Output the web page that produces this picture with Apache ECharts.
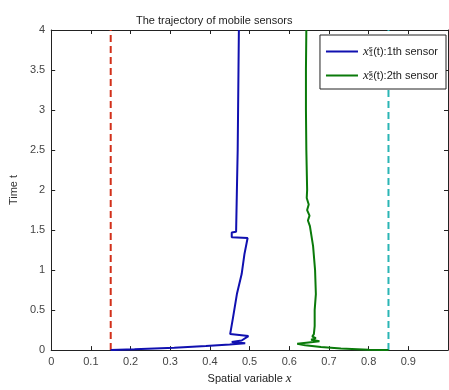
<!DOCTYPE html>
<html><head><meta charset="utf-8">
<script src="https://cdn.jsdelivr.net/npm/echarts@6/dist/echarts.min.js"></script>
<style>html,body{margin:0;padding:0;background:#fff;}#c{width:449px;height:390px;}</style>
</head><body><div id="c"></div>
<script>
const xTicks = [0,0.1,0.2,0.3,0.4,0.5,0.6,0.7,0.8,0.9,1];
const yTicks = [0,0.5,1,1.5,2,2.5,3,3.5,4];
// sensor 1 trajectory (time, position)
const s1T = [0,0.01,0.03,0.05,0.07,0.085,0.10,0.12,0.175,0.20,0.40,0.70,0.95,1.20,1.40,1.41,1.47,1.48,2.0,2.5,3.0,3.5,4.0];
const s1X = [0.15,0.21,0.31,0.39,0.45,0.489,0.455,0.48,0.497,0.451,0.458,0.468,0.48,0.487,0.495,0.455,0.455,0.466,0.468,0.47,0.471,0.472,0.473];
// sensor 2 trajectory
const s2T = [0,0.005,0.02,0.04,0.06,0.08,0.09,0.10,0.11,0.13,0.15,0.17,0.20,0.30,0.50,0.70,1.00,1.30,1.55,1.62,1.68,1.75,1.82,1.90,2.0,2.5,3.0,3.5,4.0];
const s2X = [0.85,0.80,0.73,0.68,0.64,0.62,0.618,0.66,0.676,0.655,0.667,0.658,0.662,0.664,0.664,0.667,0.665,0.66,0.652,0.647,0.651,0.645,0.649,0.644,0.645,0.643,0.642,0.642,0.643];
// boundary / reference lines
const leftX = [0.15,0.15], leftT = [0,4];
const rightX = [0.85,0.85], rightT = [0,4];

const zip = (xs, ts) => xs.map((x,i)=>[x, ts[i]]);
const axisCol = '#222';
const lab = {color:'#444', fontSize:11, fontFamily:'Liberation Sans, Arial, sans-serif'};
const chart = echarts.init(document.getElementById('c'), null, {renderer:'canvas'});
chart.setOption({
  animation:false,
  backgroundColor:'#fff',
  title:{text:'The trajectory of mobile sensors', left:131, top:10,
    textStyle:{fontSize:11, fontWeight:'normal', color:'#222', fontFamily:'Liberation Sans, Arial, sans-serif'}},
  grid:{left:48, right:1, top:30, bottom:33, containLabel:false},
  legend:{
    right:3, top:35, orient:'vertical', backgroundColor:'#fff', borderColor:'#222', borderWidth:1,
    padding:[10,8,7,5], itemWidth:32, itemHeight:12, itemGap:11,
    itemStyle:{opacity:0},
    data:['s1','s2'],
    formatter: n => n==='s1' ? '{i|x}{sp|s}{sb|1}{t|(t):1th sensor}' : '{i|x}{sp|s}{sb|2}{t|(t):2th sensor}',
    textStyle:{color:'#222', fontSize:11, fontFamily:'Liberation Sans, Arial, sans-serif',
      rich:{
        i:{fontStyle:'italic', fontFamily:'Liberation Serif, serif', fontSize:13, color:'#222'},
        sp:{fontSize:8, verticalAlign:'top', width:0, color:'#222'},
        sb:{fontSize:8, verticalAlign:'bottom', color:'#222'},
        t:{fontSize:11, color:'#222', fontFamily:'Liberation Sans, Arial, sans-serif'}
      }}
  },
  xAxis:[{
    type:'value', min:0, max:1, interval:0.1, position:'bottom',
    name:'Spatial variable {i|x}', nameLocation:'middle', nameGap:21,
    nameTextStyle:{color:'#222', fontSize:11, fontFamily:'Liberation Sans, Arial, sans-serif',
      rich:{i:{fontStyle:'italic', fontFamily:'Liberation Serif, serif', fontSize:13, color:'#222'}}},
    axisLine:{show:true, lineStyle:{color:axisCol, width:1}},
    axisTick:{show:true, inside:true, length:4, lineStyle:{color:axisCol}},
    axisLabel:Object.assign({showMaxLabel:false, margin:6, formatter:v=>String(+v.toFixed(1))}, lab),
    splitLine:{show:false}
  },{
    type:'value', min:0, max:1, interval:0.1, position:'top',
    axisLine:{show:true, onZero:false, lineStyle:{color:axisCol, width:1}},
    axisTick:{show:true, inside:true, length:4, lineStyle:{color:axisCol}},
    axisLabel:{show:false}, splitLine:{show:false}
  }],
  yAxis:[{
    type:'value', min:0, max:4, interval:0.5, position:'left',
    name:'Time t', nameLocation:'middle', nameGap:29, nameRotate:90,
    nameTextStyle:{color:'#333', fontSize:11, fontFamily:'Liberation Sans, Arial, sans-serif'},
    axisLine:{show:true, lineStyle:{color:axisCol, width:1}},
    axisTick:{show:true, inside:true, length:4, lineStyle:{color:axisCol}},
    axisLabel:Object.assign({margin:6, formatter:v=>String(+v.toFixed(1))}, lab),
    splitLine:{show:false}
  },{
    type:'value', min:0, max:4, interval:0.5, position:'right',
    axisLine:{show:true, onZero:false, lineStyle:{color:axisCol, width:1}},
    axisTick:{show:true, inside:true, length:4, lineStyle:{color:axisCol}},
    axisLabel:{show:false}, splitLine:{show:false}
  }],
  series:[
    {name:'left', type:'line', data:zip(leftX,leftT), symbol:'none', silent:true,
      lineStyle:{color:'#d2301a', width:2, type:[7,4]}},
    {name:'right', type:'line', data:zip(rightX,rightT), symbol:'none', silent:true,
      lineStyle:{color:'#2bb5b5', width:2, type:[7,4]}},
    {name:'s1', type:'line', data:zip(s1X,s1T), symbol:'none', color:'#1010b0',
      lineStyle:{color:'#1010b0', width:2}},
    {name:'s2', type:'line', data:zip(s2X,s2T), symbol:'none', color:'#0a7a0a',
      lineStyle:{color:'#0a7a0a', width:2}}
  ]
});
</script></body></html>
